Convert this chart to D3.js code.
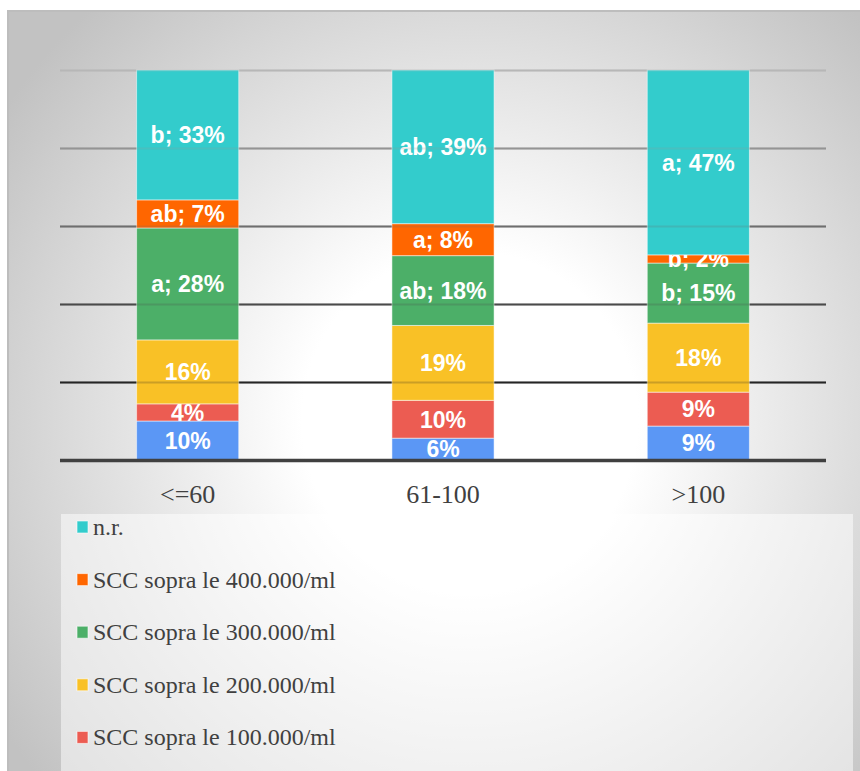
<!DOCTYPE html>
<html>
<head>
<meta charset="utf-8">
<script src="https://cdn.jsdelivr.net/npm/d3@7"></script>
<style>
  html, body { margin: 0; padding: 0; background: #ffffff; }
  svg { display: block; }
  .serif { font-family: "Liberation Serif", "Times New Roman", serif; }
</style>
</head>
<body>
<div id="chart"></div>
<script>
// Categories (x axis) and stacked series, bottom to top
var categories = ["<=60", "61-100", ">100"];
var seriesNames = ["SCC fino a 100.000/ml", "SCC sopra le 100.000/ml", "SCC sopra le 200.000/ml",
                   "SCC sopra le 300.000/ml", "SCC sopra le 400.000/ml", "n.r."];
var seriesColors = ["#5b97f5", "#ec5c52", "#f9c126", "#4caf68", "#ff6600", "#33cccc"];

var blueValues   = [10.0, 5.6, 8.7];
var redValues    = [4.4, 9.7, 8.7];
var yellowValues = [16.4, 19.2, 17.7];
var greenValues  = [28.7, 17.9, 15.4];
var orangeValues = [7.2, 8.2, 2.1];
var tealValues   = [33.3, 39.4, 47.4];

var blueLabels   = ["10%", "6%", "9%"];
var redLabels    = ["4%", "10%", "9%"];
var yellowLabels = ["16%", "19%", "18%"];
var greenLabels  = ["a; 28%", "ab; 18%", "b; 15%"];
var orangeLabels = ["ab; 7%", "a; 8%", "b; 2%"];
var tealLabels   = ["b; 33%", "ab; 39%", "a; 47%"];

var tickValues = [0, 20, 40, 60, 80, 100];

// legend shows top series first; the last entry falls below the visible page
var legendOrder = [5, 4, 3, 2, 1];

(function () {
    "use strict";

    var W = 860, H = 771;
    var allValues = [blueValues, redValues, yellowValues, greenValues, orangeValues, tealValues];
    var allLabels = [blueLabels, redLabels, yellowLabels, greenLabels, orangeLabels, tealLabels];

    var svg = d3.select("#chart").append("svg")
        .attr("width", W).attr("height", H);

    // background gradient
    var defs = svg.append("defs");
    var grad = defs.append("radialGradient")
        .attr("id", "bg")
        .attr("gradientUnits", "userSpaceOnUse")
        .attr("cx", 470).attr("cy", 420).attr("r", 560);
    grad.append("stop").attr("offset", "0").attr("stop-color", "#ffffff");
    grad.append("stop").attr("offset", "0.3").attr("stop-color", "#ffffff");
    grad.append("stop").attr("offset", "1").attr("stop-color", "#c2c2c2");

    svg.append("rect")
        .attr("x", 8).attr("y", 11).attr("width", W).attr("height", H)
        .attr("fill", "url(#bg)")
        .attr("stroke", "#bdbdbd").attr("stroke-width", 2);

    var plot = { left: 60, right: 826, top: 70, bottom: 460 };

    var x = d3.scaleBand()
        .domain(categories)
        .range([plot.left, plot.right])
        .paddingInner(0.6)
        .paddingOuter(0.3);

    var y = d3.scaleLinear()
        .domain([0, 100])
        .range([plot.bottom, plot.top]);

    var gridColor = d3.scaleLinear()
        .domain([20, 100])
        .range(["#262626", "#b8b8b8"]);

    function drawGrid(opacity) {
        var grid = svg.append("g")
            .attr("transform", "translate(" + plot.left + ",0)")
            .call(d3.axisLeft(y).tickValues(tickValues.filter(function (t) { return t > 0; }))
                .tickSize(-(plot.right - plot.left)).tickFormat(""));
        grid.select(".domain").remove();
        grid.selectAll(".tick line")
            .attr("stroke", function (d) { return gridColor(d); })
            .attr("stroke-opacity", opacity)
            .attr("stroke-width", 2);
    }

    // gridlines under the bars
    drawGrid(1);

    // stacked data table
    var table = categories.map(function (c, i) {
        var row = { category: c };
        seriesNames.forEach(function (s, k) { row[s] = allValues[k][i]; });
        return row;
    });
    var stacked = d3.stack().keys(seriesNames)(table);

    stacked.forEach(function (layer, k) {
        var g = svg.append("g").attr("class", "series");
        g.selectAll("rect")
            .data(layer)
            .enter().append("rect")
            .attr("x", function (d) { return x(d.data.category); })
            .attr("width", x.bandwidth())
            .attr("y", function (d) { return y(d[1]); })
            .attr("height", function (d) { return y(d[0]) - y(d[1]); })
            .attr("fill", seriesColors[k])
            .attr("stroke", "rgba(255,255,255,0.5)")
            .attr("stroke-width", 1);
        g.selectAll("text")
            .data(layer)
            .enter().append("text")
            .attr("x", function (d) { return x(d.data.category) + x.bandwidth() / 2; })
            .attr("y", function (d) { return (y(d[0]) + y(d[1])) / 2; })
            .attr("dy", "0.36em")
            .attr("text-anchor", "middle")
            .attr("fill", "#ffffff")
            .attr("font-family", "'Liberation Sans', Arial, sans-serif")
            .attr("font-weight", "bold")
            .attr("font-size", "23px")
            .text(function (d, i) { return allLabels[k][i]; });
    });

    // faint gridlines showing through the bars
    drawGrid(0.22);

    // baseline
    svg.append("g")
        .attr("transform", "translate(" + plot.left + ",0)")
        .call(d3.axisLeft(y).tickValues([0]).tickSize(-(plot.right - plot.left)).tickFormat(""))
        .call(function (g) { g.select(".domain").remove(); })
        .selectAll(".tick line")
        .attr("stroke", "#404040")
        .attr("stroke-width", 3.5);

    // category labels
    var xAxis = svg.append("g")
        .attr("transform", "translate(0," + plot.bottom + ")")
        .call(d3.axisBottom(x).tickSize(0).tickPadding(0))
        .attr("font-family", null)
        .attr("class", "serif");
    xAxis.select(".domain").remove();
    xAxis.selectAll(".tick text")
        .attr("class", "serif")
        .attr("y", 43)
        .attr("dy", 0)
        .attr("fill", "#404040")
        .style("font-family", "'Liberation Serif', 'Times New Roman', serif")
        .style("font-size", "26px");

    // legend box
    svg.append("rect")
        .attr("x", 61).attr("y", 514)
        .attr("width", 853 - 61).attr("height", H - 514 + 10)
        .attr("fill", "#ffffff").attr("fill-opacity", 0.5);

    var legend = svg.append("g");
    var item = legend.selectAll("g")
        .data(legendOrder)
        .enter().append("g")
        .attr("transform", function (d, i) { return "translate(77," + (527 + i * 52.6) + ")"; });
    item.append("rect")
        .attr("x", 0).attr("y", -6)
        .attr("width", 11).attr("height", 12)
        .attr("fill", function (d) { return seriesColors[d]; })
        .attr("stroke", "rgba(255,255,255,0.6)")
        .attr("stroke-width", 1);
    item.append("text")
        .attr("x", 16).attr("y", 8)
        .attr("fill", "#404040")
        .style("font-family", "'Liberation Serif', 'Times New Roman', serif")
        .attr("font-size", "24px")
        .text(function (d) { return seriesNames[d]; });
})();
</script>
</body>
</html>
